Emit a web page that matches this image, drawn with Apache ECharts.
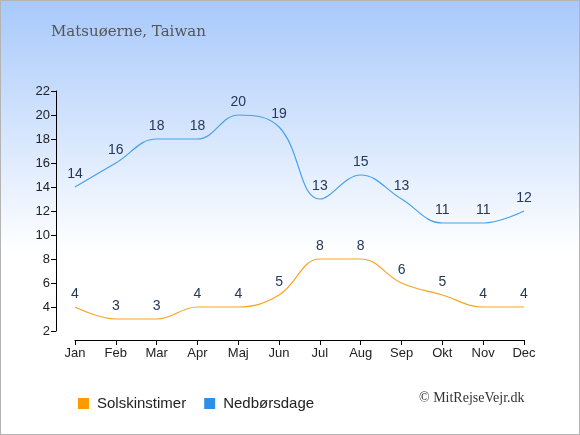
<!DOCTYPE html>
<html>
<head>
<meta charset="utf-8">
<script src="https://cdn.jsdelivr.net/npm/echarts@6/dist/echarts.min.js"></script>
<style>
html, body { margin: 0; padding: 0; }
#chart { width: 580px; height: 435px; box-sizing: border-box; border: 1px solid #b4b4b4; }
</style>
</head>
<body>
<div id="chart"></div>
<script>
var months = ['Jan', 'Feb', 'Mar', 'Apr', 'Maj', 'Jun', 'Jul', 'Aug', 'Sep', 'Okt', 'Nov', 'Dec'];
var sunHours = [4, 3, 3, 4, 4, 5, 8, 8, 6, 5, 4, 4];
var rainDays = [14, 16, 18, 18, 20, 19, 13, 15, 13, 11, 11, 12];

var myChart = echarts.init(document.getElementById('chart'));

var labelStyle = {
    show: true,
    position: 'top',
    distance: 6,
    color: '#253858',
    fontSize: 14,
    fontFamily: 'Liberation Sans'
};

var option = {
    backgroundColor: {
        type: 'linear', x: 0, y: 0, x2: 0, y2: 1,
        colorStops: [
            { offset: 0, color: '#a8c9fb' },
            { offset: 0.58, color: '#ffffff' },
            { offset: 1, color: '#ffffff' }
        ]
    },
    animation: false,
    title: {
        text: 'Matsuøerne, Taiwan',
        left: 45,
        top: 19,
        textStyle: {
            color: '#555555',
            fontSize: 15,
            fontWeight: 'normal',
            fontFamily: 'DejaVu Serif'
        }
    },
    graphic: [{
        type: 'text',
        left: 418,
        top: 390,
        style: {
            text: '© MitRejseVejr.dk',
            fill: '#333333',
            font: '14px "Liberation Serif"'
        }
    }],
    legend: {
        data: ['Solskinstimer', 'Nedbørsdage'],
        left: 72,
        top: 390,
        itemWidth: 11,
        itemHeight: 11,
        itemGap: 18,
        icon: 'rect',
        textStyle: { color: '#222222', fontSize: 15, fontFamily: 'Liberation Sans', padding: [0, 0, 0, 3] }
    },
    grid: {
        left: 74,
        right: 55,
        top: 90,
        bottom: 103
    },
    xAxis: {
        type: 'category',
        boundaryGap: false,
        data: months,
        offset: 9,
        axisLine: { lineStyle: { color: '#000000', width: 1 } },
        axisTick: { alignWithLabel: true, length: 5, lineStyle: { color: '#000000' } },
        axisLabel: { color: '#222222', fontSize: 13, margin: 7, fontFamily: 'Liberation Sans' }
    },
    yAxis: {
        type: 'value',
        min: 2,
        max: 22,
        interval: 2,
        offset: 19,
        axisLine: { show: true, lineStyle: { color: '#000000', width: 1 } },
        axisTick: { show: true, length: 5, lineStyle: { color: '#000000' } },
        axisLabel: { color: '#222222', fontSize: 13, margin: 6, fontFamily: 'Liberation Sans' },
        splitLine: { show: false }
    },
    series: [
        {
            name: 'Solskinstimer',
            type: 'line',
            smooth: 0.4,
            data: sunHours,
            symbol: 'circle',
            symbolSize: 0,
            showSymbol: true,
            itemStyle: { color: '#ff9900' },
            lineStyle: { color: '#f8a424', width: 1.2 },
            label: labelStyle
        },
        {
            name: 'Nedbørsdage',
            type: 'line',
            smooth: 0.4,
            data: rainDays,
            symbol: 'circle',
            symbolSize: 0,
            showSymbol: true,
            itemStyle: { color: '#2f8fe6' },
            lineStyle: { color: '#46a0ec', width: 1.2 },
            label: labelStyle
        }
    ]
};

option && myChart.setOption(option);
</script>
</body>
</html>
